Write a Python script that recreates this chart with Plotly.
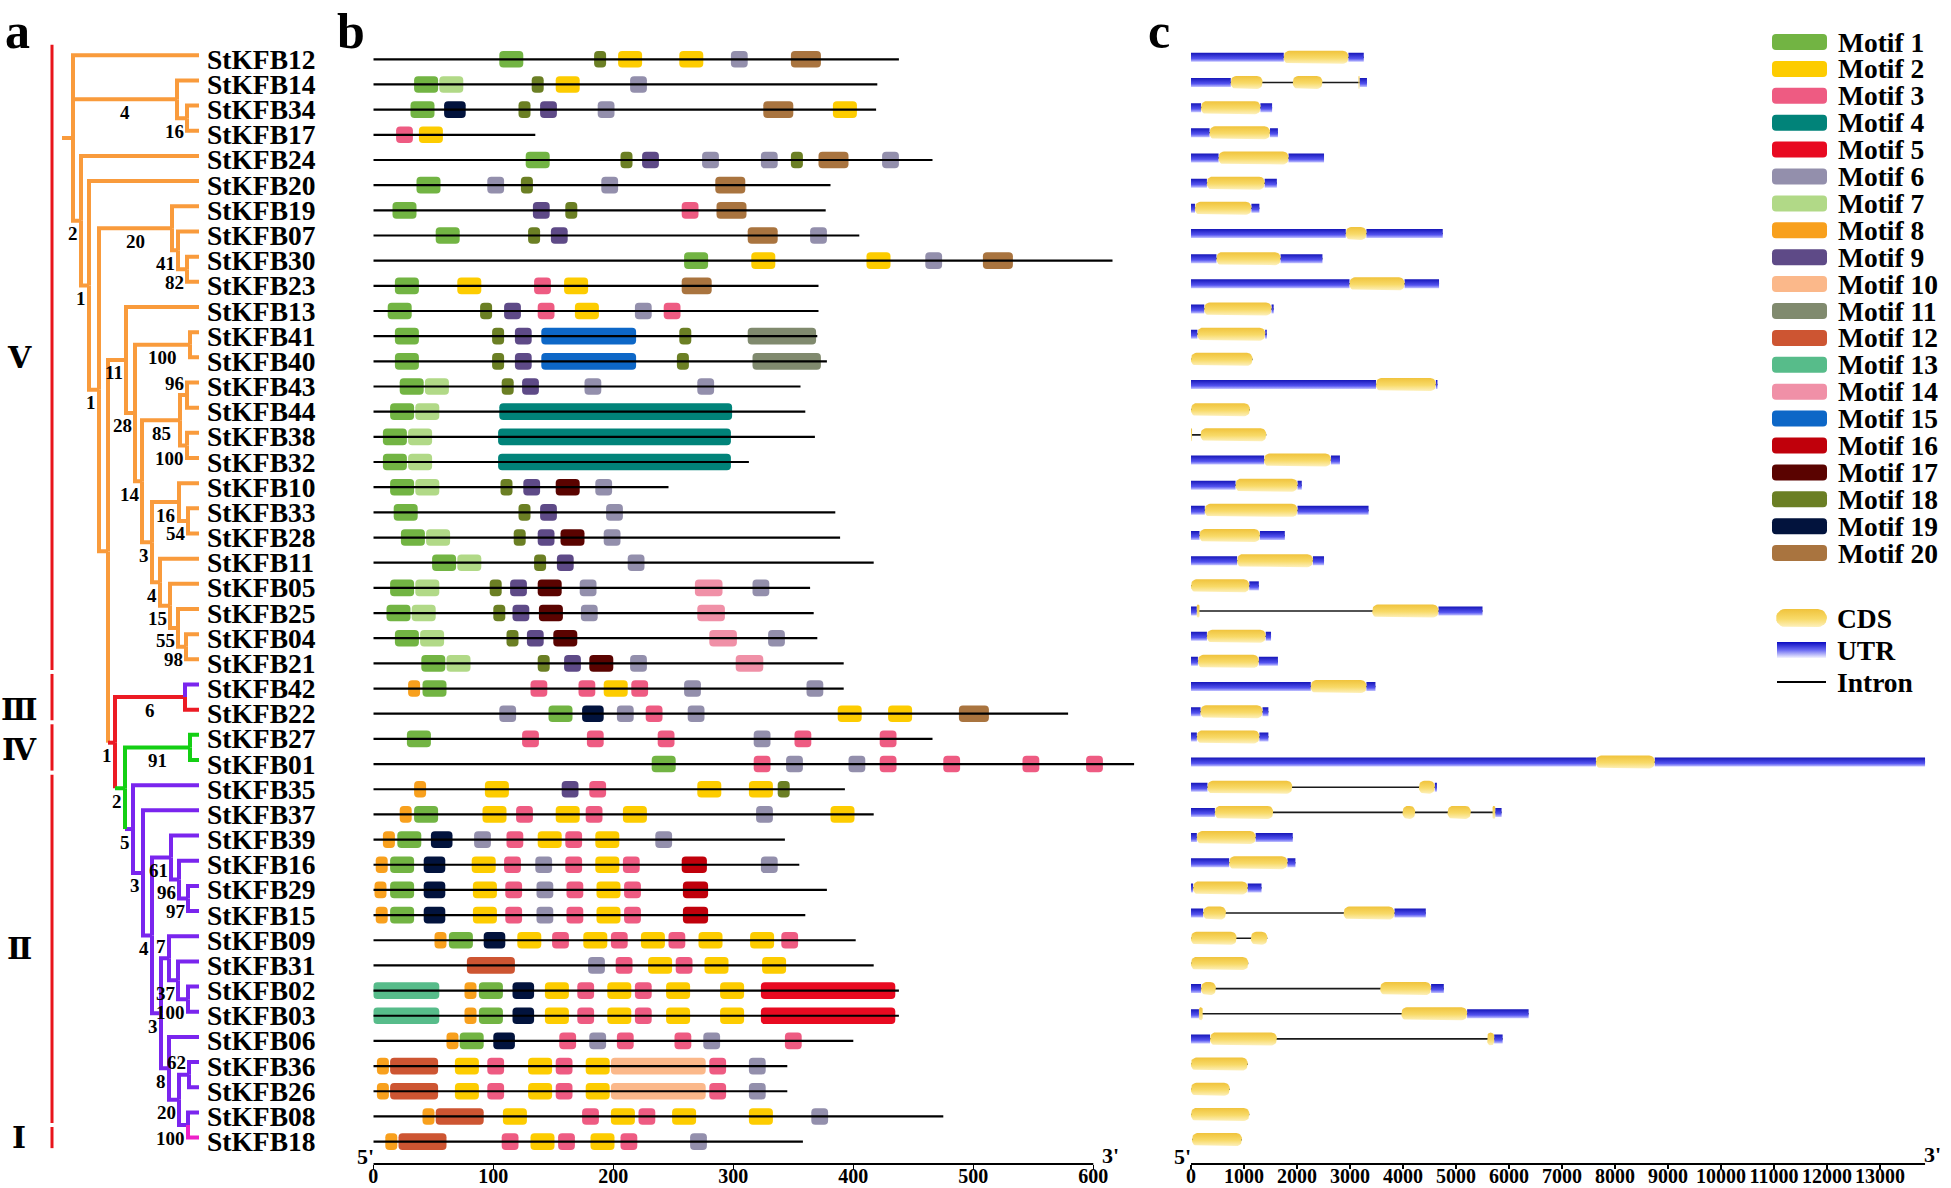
import math
import plotly.graph_objects as go

# ------------------------------------------------------------------ data
GENES = ["StKFB12", "StKFB14", "StKFB34", "StKFB17", "StKFB24", "StKFB20", "StKFB19", "StKFB07",
         "StKFB30", "StKFB23", "StKFB13", "StKFB41", "StKFB40", "StKFB43", "StKFB44", "StKFB38",
         "StKFB32", "StKFB10", "StKFB33", "StKFB28", "StKFB11", "StKFB05", "StKFB25", "StKFB04",
         "StKFB21", "StKFB42", "StKFB22", "StKFB27", "StKFB01", "StKFB35", "StKFB37", "StKFB39",
         "StKFB16", "StKFB29", "StKFB15", "StKFB09", "StKFB31", "StKFB02", "StKFB03", "StKFB06",
         "StKFB36", "StKFB26", "StKFB08", "StKFB18"]

# Newick tree: internal labels = bootstrap, branch lengths = cladogram depth units
TREE_NEWICK = (
    "(StKFB12:126,(StKFB14:22,(StKFB34:12,StKFB17:12)16:10)4:104,(StKFB24:118,(StKFB20:110,"
    "((StKFB19:27,(StKFB07:21,(StKFB30:12,StKFB23:12)82:9)41:6)20:73,"
    "((StKFB13:73,((StKFB41:9,StKFB40:9)100:55,(((StKFB43:12,StKFB44:12)96:7,"
    "(StKFB38:12,StKFB32:12)100:7)85:38,((StKFB10:20,(StKFB33:11,StKFB28:11)54:9)16:27,"
    "(StKFB11:39,(StKFB05:29,(StKFB25:21,(StKFB04:13,StKFB21:13)98:8)55:8)15:10)4:8)3:10)14:7)28:9)11:18,"
    "((StKFB42:14,StKFB22:14)6:70,((StKFB27:9,StKFB01:9)91:65,(StKFB35:66,(StKFB37:56,"
    "((StKFB39:28,(StKFB16:20,(StKFB29:11,StKFB15:11)97:9)96:8)61:19,"
    "((StKFB09:30,(StKFB31:21,(StKFB02:11,StKFB03:11)100:10)37:9)7:8,"
    "(StKFB06:30,((StKFB36:10,StKFB26:10)62:10,(StKFB08:11,StKFB18:11)100:9)20:10)8:8)3:9)4:9)3:10)5:8)2:10)1:7)"
    ":9)1:10)1:8)2:8):11;"
)
# bootstrap labels drawn above (instead of below) their branch, identified by two leaves
BOOT_ABOVE = [("StKFB43", "StKFB44"), ("StKFB36", "StKFB26"), ("StKFB09", "StKFB03")]

CLADE_NAMES = ["Ⅴ", "Ⅲ", "Ⅳ", "Ⅱ", "Ⅰ"]
CLADE_FIRST = ["StKFB12", "StKFB42", "StKFB27", "StKFB35", "StKFB18"]
CLADE_LAST = ["StKFB21", "StKFB22", "StKFB01", "StKFB08", "StKFB18"]

PROTEIN_LENGTH = [438, 420, 419, 135, 466, 381, 377, 405, 616, 371,
                  371, 370, 378, 356, 360, 368, 313, 246, 385, 389,
                  417, 364, 367, 370, 392, 392, 579, 466, 634, 393,
                  417, 343, 355, 378, 360, 402, 417, 438, 438, 400,
                  345, 345, 475, 358]

MOTIF_NAMES = ["Motif %d" % i for i in range(1, 21)]
MOTIF_WIDTH = [20, 20, 14, 194, 112, 14, 20, 10, 14, 79, 57, 40, 55, 23, 79, 21, 20, 10, 18, 25]

# motif:start (aa), one string per gene in GENES order
MOTIF_SITES = [
    "1:105 18:184 2:204 2:255 6:298 20:348",
    "1:34 7:55 18:132 2:152 6:214",
    "1:31 19:59 18:121 9:139 6:187 20:325 2:383",
    "3:19 2:38",
    "1:127 18:206 9:224 6:274 6:323 18:348 20:371 6:424",
    "1:36 6:95 18:123 6:190 20:285",
    "1:16 9:133 18:160 3:257 20:286",
    "1:52 18:129 9:148 20:312 6:364",
    "1:259 2:315 2:411 6:460 20:508",
    "1:18 2:70 3:134 2:159 20:257",
    "1:12 18:89 9:109 3:137 2:168 6:218 3:242",
    "1:18 18:99 9:118 15:140 18:255 11:312",
    "1:18 18:99 9:118 15:140 18:253 11:316",
    "1:22 7:43 18:107 9:124 6:176 6:270",
    "1:14 7:35 4:105",
    "1:8 7:29 4:104",
    "1:8 7:29 4:104",
    "1:14 7:35 18:106 9:125 17:152 6:185",
    "1:17 18:121 9:139 6:194",
    "1:23 7:44 18:117 9:137 17:156 6:192",
    "1:49 7:70 18:134 9:153 6:212",
    "1:14 7:35 18:97 9:114 17:137 6:172 14:268 6:316",
    "1:11 7:32 18:100 9:116 17:138 6:173 14:270",
    "1:18 7:39 18:111 9:128 17:150 14:280 6:329",
    "1:40 7:61 18:137 9:159 17:180 6:214 14:302",
    "8:29 1:41 3:131 3:171 2:192 3:215 6:259 6:361",
    "6:105 1:146 19:174 6:203 3:227 6:262 2:387 2:429 20:488",
    "1:28 3:124 3:178 3:237 6:317 3:351 3:422",
    "1:232 3:317 6:344 6:396 3:422 3:475 3:541 3:594",
    "8:34 2:93 9:157 3:180 2:270 2:313 18:337",
    "8:22 1:34 2:91 3:119 2:152 3:177 2:208 6:319 2:381",
    "8:8 1:20 19:48 6:84 3:111 2:137 3:160 2:185 6:235",
    "8:2 1:14 19:42 2:82 3:109 6:135 3:160 2:185 3:208 16:257 6:323",
    "8:1 1:14 19:42 2:83 3:110 6:136 3:161 2:186 3:209 16:258",
    "8:2 1:14 19:42 2:83 3:110 6:136 3:161 2:186 3:209 16:258",
    "8:51 1:63 19:92 2:120 3:149 2:175 3:198 2:223 3:246 2:271 2:314 3:340",
    "12:78 6:179 3:202 2:229 3:252 2:276 2:324",
    "13:0 8:76 1:88 19:116 2:143 3:170 2:195 3:218 2:244 2:289 5:323",
    "13:0 8:76 1:88 19:116 2:143 3:170 2:195 3:218 2:244 2:289 5:323",
    "8:61 1:72 19:100 3:155 6:180 3:203 3:251 6:275 3:343",
    "8:3 12:14 2:68 3:95 2:129 3:152 2:177 10:198 3:280 6:313",
    "8:3 12:14 2:68 3:95 2:129 3:152 2:177 10:198 3:280 6:313",
    "8:41 12:52 2:108 3:174 2:198 3:221 2:249 2:313 6:365",
    "8:10 12:21 3:107 2:131 3:154 2:181 3:206 6:264",
]

# gene structure (bp): U = UTR, C = CDS; gaps between blocks are introns
GENE_STRUCTURE = [
    "U0-1750 C1750-2970 U2970-3260",
    "U0-750 C750-1350 C1920-2480 C3160-3180 U3180-3320",
    "U0-190 C190-1310 U1310-1530",
    "U0-350 C350-1490 U1490-1640",
    "U0-520 C520-1840 U1840-2510",
    "U0-300 C300-1390 U1390-1620",
    "U0-75 C75-1140 U1140-1290",
    "U0-2920 C2920-3310 U3310-4750",
    "U0-480 C480-1690 U1690-2480",
    "U0-2990 C2990-4030 U4030-4680",
    "U0-250 C250-1520 U1520-1560",
    "U0-120 C120-1400 U1400-1430",
    "C0-1160",
    "U0-3490 C3490-4620 U4620-4650",
    "C0-1110",
    "C0-20 C180-1420",
    "U0-1380 C1380-2640 U2640-2810",
    "U0-840 C840-2010 U2010-2090",
    "U0-260 C260-2010 U2010-3350",
    "U0-160 C160-1300 U1300-1770",
    "U0-870 C870-2300 U2300-2510",
    "C0-1100 U1100-1280",
    "U0-110 C110-160 C3420-4670 U4670-5500",
    "U0-300 C300-1410 U1410-1510",
    "U0-130 C130-1280 U1280-1640",
    "U0-2260 C2260-3310 U3310-3480",
    "U0-180 C180-1350 U1350-1460",
    "U0-110 C110-1290 U1290-1460",
    "U0-7640 C7640-8750 U8750-13850",
    "U0-310 C310-1910 C4300-4600 U4600-4640",
    "U0-450 C450-1550 C3990-4230 C4840-5280 C5690-5740 U5740-5860",
    "U0-110 C110-1220 U1220-1920",
    "U0-720 C720-1820 U1820-1970",
    "U0-40 C40-1070 U1070-1330",
    "U0-230 C230-660 C2880-3840 U3840-4430",
    "C0-860 C1130-1440",
    "C0-1080",
    "U0-190 C190-470 C3570-4530 U4530-4770",
    "U0-150 C150-220 C3970-5210 U5210-6370",
    "U0-360 C360-1620 C5590-5720 U5720-5880",
    "C0-1070",
    "C0-730",
    "C0-1100",
    "C20-960",
]

PROTEIN_TICKS = [0, 100, 200, 300, 400, 500, 600]
GENE_TICKS = list(range(0, 14000, 1000))
STRUCTURE_LEGEND = ["CDS", "UTR", "Intron"]

# ------------------------------------------------------------------ styles / page geometry
W, H = 1951, 1188          # browser window
OFF = 0                    # page margin (body margin removed by post_script)
FW, FH = W - 2 * OFF, H - 2 * OFF
SERIF = "Liberation Serif, Times New Roman, DejaVu Serif, serif"
ORANGE, RED, GREEN, PURPLE, MAGENTA = "#F99B3C", "#EC1B24", "#14CF14", "#7A25EE", "#EE1FC8"
CLADE_BAR = "#E8141B"
BRANCH_COLOR_RULES = [("StKFB42", "StKFB18", RED), ("StKFB27", "StKFB18", GREEN),
                      ("StKFB35", "StKFB18", PURPLE), ("StKFB42", "StKFB42", PURPLE),
                      ("StKFB18", "StKFB18", MAGENTA)]
MOTIF_COLORS = ["#72B443", "#FDCC00", "#EE5B82", "#018379", "#E80A21", "#938FAC", "#B1D987",
                "#F8A01D", "#5E4A87", "#FBB88A", "#808A6E", "#CD5532", "#57BC8A", "#F090A7",
                "#0D67C7", "#C0000B", "#5A0300", "#6B7F24", "#02133D", "#A9743F"]
CDS_SCALE = [[0, "#FDF0BC"], [0.45, "#F8DA68"], [1, "#F0C33C"]]
UTR_SCALE = [[0, "#C4C4FF"], [0.35, "#5454F0"], [1, "#1616B8"]]

ROW0_PX, ROW_PX = 59.3, 25.17
Y_TOP = (OFF - ROW0_PX) / ROW_PX
Y_BOT = (OFF + FH - ROW0_PX) / ROW_PX
TREE_PX0 = 62.0
PB_PX0, PB_K, PB_MAX = 373.3, 1.2, 645
PC_PX0, PC_K, PC_MAX = 1191.0, 0.053, 14150
TREE_DY, PC_DY = -0.16, -0.08


def pfx(px):
    return (px - OFF) / FW


def pfy(py):
    return 1 - (py - OFF) / FH


AXIS_POS = pfy(1164)


# ------------------------------------------------------------------ tree
def parse_newick(s):
    pos = [0]

    def node():
        n = {"children": [], "name": "", "bl": 0.0}
        if s[pos[0]] == "(":
            pos[0] += 1
            while True:
                n["children"].append(node())
                ch = s[pos[0]]
                pos[0] += 1
                if ch == ")":
                    break
        st = pos[0]
        while pos[0] < len(s) and s[pos[0]] not in ",():;":
            pos[0] += 1
        n["name"] = s[st:pos[0]]
        if pos[0] < len(s) and s[pos[0]] == ":":
            pos[0] += 1
            st = pos[0]
            while pos[0] < len(s) and s[pos[0]] not in ",();":
                pos[0] += 1
            n["bl"] = float(s[st:pos[0]])
        return n
    return node()


root = parse_newick(TREE_NEWICK)
row_of = {g: i for i, g in enumerate(GENES)}


def place(n, x0):
    n["x"] = x0 + n["bl"]
    n["px"] = x0
    if not n["children"]:
        n["y"] = row_of[n["name"]] + TREE_DY
        n["leaves"] = {n["name"]}
    else:
        for c in n["children"]:
            place(c, n["x"])
        n["y"] = (n["children"][0]["y"] + n["children"][-1]["y"]) / 2
        n["leaves"] = set().union(*[c["leaves"] for c in n["children"]])


place(root, 0.0)


def paint(n, col):
    n["color"] = col
    for c in n["children"]:
        paint(c, col)


def mrca(n, a, b):
    for c in n["children"]:
        if a in c["leaves"] and b in c["leaves"]:
            return mrca(c, a, b)
    return n


paint(root, ORANGE)
for a, b, col in BRANCH_COLOR_RULES:
    paint(mrca(root, a, b), col)
above_ids = {id(mrca(root, a, b)) for a, b in BOOT_ABOVE}

segs = {}


def add_seg(col, pts):
    xs, ys = segs.setdefault(col, ([], []))
    for p in pts:
        xs.append(p[0])
        ys.append(p[1])
    xs.append(None)
    ys.append(None)


boot = []


def walk(n):
    for c in n["children"]:
        leaf = not c["children"]
        vcol = c["color"] if leaf else n["color"]
        if vcol == c["color"]:
            add_seg(vcol, [(n["x"], n["y"]), (n["x"], c["y"]), (c["x"], c["y"])])
        else:
            add_seg(vcol, [(n["x"], n["y"]), (n["x"], c["y"])])
            add_seg(c["color"], [(n["x"], c["y"]), (c["x"], c["y"])])
        if not leaf:
            if c["name"]:
                boot.append(c)
            walk(c)


add_seg(root["color"], [(0, root["y"]), (root["x"], root["y"])])
walk(root)

fig = go.Figure()
for col, (xs, ys) in segs.items():
    fig.add_trace(go.Scatter(x=xs, y=ys, mode="lines", line=dict(color=col, width=4),
                             xaxis="x", yaxis="y", hoverinfo="skip", showlegend=False))

# clade bars
cx, cy = [], []
for f, l in zip(CLADE_FIRST, CLADE_LAST):
    cx += [-10, -10, None]
    cy += [row_of[f] - 0.42 + TREE_DY, row_of[l] + 0.42 + TREE_DY, None]
fig.add_trace(go.Scatter(x=cx, y=cy, mode="lines", line=dict(color=CLADE_BAR, width=3),
                         xaxis="x", yaxis="y", hoverinfo="skip", showlegend=False))

annotations = []


def bold(s):
    return dict(family=SERIF, size=s, color="black", weight="bold")


leaf_x = max(n_["x"] for n_ in [root] + root["children"] if not n_["children"])
for i, g in enumerate(GENES):
    annotations.append(dict(x=leaf_x + 6, y=i, xref="x", yref="y", text=g, showarrow=False,
                            xanchor="left", yanchor="middle", font=bold(27.5)))
for n in boot:
    w = 9.5 * len(n["name"])
    bx = min((n["px"] + n["x"]) / 2, n["x"] - 3 - w / 2)
    dy = -12 if id(n) in above_ids else 13
    annotations.append(dict(x=bx, y=n["y"] + dy / ROW_PX, xref="x", yref="y", text=n["name"],
                            showarrow=False, xanchor="center", yanchor="middle", font=bold(19)))
for name, f, l in zip(CLADE_NAMES, CLADE_FIRST, CLADE_LAST):
    nrows = row_of[l] - row_of[f] + 1
    cyc = (row_of[f] + row_of[l]) / 2 + TREE_DY + (0.5 if nrows == 2 else 0.0) * (1 if f == "StKFB42" else 0.2)
    annotations.append(dict(x=-43, y=cyc, xref="x", yref="y",
                            text=name, showarrow=False, xanchor="center", yanchor="middle",
                            font=bold(30)))

# ------------------------------------------------------------------ panel b (motifs)
bbx, bby = [], []
for i, L in enumerate(PROTEIN_LENGTH):
    bbx += [0, L, None]
    bby += [i, i, None]
fig.add_trace(go.Scatter(x=bbx, y=bby, mode="lines", line=dict(color="black", width=2.2),
                         xaxis="x2", yaxis="y", hoverinfo="skip", showlegend=False))
rows_by_motif = {k: ([], []) for k in range(20)}
for i, s in enumerate(MOTIF_SITES):
    for tok in s.split():
        m, p = tok.split(":")
        rows_by_motif[int(m) - 1][0].append(i)
        rows_by_motif[int(m) - 1][1].append(float(p))
for k in range(20):
    r, st = rows_by_motif[k]
    if not r:
        continue
    fig.add_trace(go.Bar(orientation="h", y=r, base=st, x=[MOTIF_WIDTH[k]] * len(r), width=0.66,
                         marker=dict(color=MOTIF_COLORS[k], cornerradius=4, line=dict(width=0)),
                         xaxis="x2", yaxis="y", hoverinfo="skip", showlegend=False))


# ------------------------------------------------------------------ panel c (gene structure)
def rrect(x0, x1, yc, h_px, r_px, kx, ky, n=6):
    w_px = (x1 - x0) * kx
    r = max(0.0, min(r_px, w_px / 2, h_px / 2))
    rx, ry = r / kx, r / ky
    hy = h_px / 2 / ky
    top, bot = yc - hy, yc + hy
    corners = [(x1 - rx, top + ry, -90, 0), (x1 - rx, bot - ry, 0, 90),
               (x0 + rx, bot - ry, 90, 180), (x0 + rx, top + ry, 180, 270)]
    pts = []
    for ccx, ccy, a0, a1 in corners:
        for k in range(n + 1):
            t = math.radians(a0 + (a1 - a0) * k / n)
            pts.append((ccx + rx * math.cos(t), ccy + ry * math.sin(t)))
    pts.append(pts[0])
    return pts


ix, iy = [], []
gene_max = 0
parsed = []
for i, s in enumerate(GENE_STRUCTURE):
    blocks = []
    for tok in s.split():
        kind = tok[0]
        a, b = tok[1:].split("-")
        blocks.append((kind, float(a), float(b)))
    parsed.append(blocks)
    lo = min(b[1] for b in blocks)
    hi = max(b[2] for b in blocks)
    gene_max = max(gene_max, hi)
    ix += [lo, hi, None]
    iy += [i + PC_DY, i + PC_DY, None]
fig.add_trace(go.Scatter(x=ix, y=iy, mode="lines", line=dict(color="#1a1a1a", width=1.6),
                         xaxis="x3", yaxis="y", hoverinfo="skip", showlegend=False))

for kind, hpx, rpx, scale, fc in [("U", 9, 0, UTR_SCALE, "#2a2ad0"), ("C", 13, 5.5, CDS_SCALE, "#F5D35A")]:
    for i, blocks in enumerate(parsed):
        xs, ys = [], []
        for kd, a, b in blocks:
            if kd != kind:
                continue
            for px_, py_ in rrect(a, b, i + PC_DY, hpx, rpx, PC_K, ROW_PX):
                xs.append(px_)
                ys.append(py_)
            xs.append(None)
            ys.append(None)
        if not xs:
            continue
        fig.add_trace(go.Scatter(x=xs, y=ys, mode="lines", fill="toself", line=dict(width=0),
                                 fillcolor=fc, fillgradient=dict(type="vertical", colorscale=scale),
                                 xaxis="x3", yaxis="y", hoverinfo="skip", showlegend=False))

# ------------------------------------------------------------------ legend (x4 / y4 in window pixels)
leg_y = [42 + 26.9 * k for k in range(20)]
fig.add_trace(go.Bar(orientation="h", y=leg_y, base=[1772] * 20, x=[55] * 20, width=16,
                     marker=dict(color=MOTIF_COLORS, cornerradius=4, line=dict(width=0)),
                     xaxis="x4", yaxis="y4", hoverinfo="skip", showlegend=False))
for name, yy in zip(MOTIF_NAMES, leg_y):
    annotations.append(dict(x=pfx(1836), y=pfy(yy), xref="paper", yref="paper", text=name,
                            showarrow=False, xanchor="left", yanchor="middle", font=bold(27.5)))
cds_pts = rrect(1776, 1827, 618, 18, 9, 1, 1)
fig.add_trace(go.Scatter(x=[p[0] for p in cds_pts], y=[p[1] for p in cds_pts], mode="lines",
                         fill="toself", line=dict(width=0), fillcolor="#F5D35A",
                         fillgradient=dict(type="vertical", colorscale=CDS_SCALE),
                         xaxis="x4", yaxis="y4", hoverinfo="skip", showlegend=False))
utr_pts = rrect(1777, 1826, 650, 16, 0, 1, 1)
fig.add_trace(go.Scatter(x=[p[0] for p in utr_pts], y=[p[1] for p in utr_pts], mode="lines",
                         fill="toself", line=dict(width=0), fillcolor="#2a2ad0",
                         fillgradient=dict(type="vertical", colorscale=[[0, "#F4F4FF"], [0.5, "#6A6AF2"], [1, "#0A0AC0"]]),
                         xaxis="x4", yaxis="y4", hoverinfo="skip", showlegend=False))
fig.add_trace(go.Scatter(x=[1777, 1826], y=[682, 682], mode="lines", line=dict(color="black", width=2),
                         xaxis="x4", yaxis="y4", hoverinfo="skip", showlegend=False))
for name, yy in zip(STRUCTURE_LEGEND, [618, 650, 682]):
    annotations.append(dict(x=pfx(1835), y=pfy(yy), xref="paper", yref="paper", text=name,
                            showarrow=False, xanchor="left", yanchor="middle", font=bold(27.5)))

# panel letters and 5'/3' marks
for t, xx in [("a", 17), ("b", 351), ("c", 1159)]:
    annotations.append(dict(x=pfx(xx), y=pfy(0.5), xref="paper", yref="paper", text=t,
                            showarrow=False, xanchor="center", yanchor="top", font=bold(50)))
for t, xx, yy in [("5'", 365, 1156), ("3'", 1110, 1155), ("5'", 1182, 1156), ("3'", 1932, 1154)]:
    annotations.append(dict(x=pfx(xx), y=pfy(yy), xref="paper", yref="paper", text=t,
                            showarrow=False, xanchor="center", yanchor="middle", font=bold(22)))

shapes = [
    dict(type="line", xref="x2", yref="paper", x0=0, x1=PROTEIN_TICKS[-1], y0=AXIS_POS, y1=AXIS_POS,
         line=dict(color="black", width=2)),
    dict(type="line", xref="x3", yref="paper", x0=0, x1=gene_max, y0=AXIS_POS, y1=AXIS_POS,
         line=dict(color="black", width=2)),
]

axis_common = dict(anchor="free", position=AXIS_POS, showline=False, showgrid=False, zeroline=False,
                   ticks="outside", ticklen=4, tickwidth=1.5, tickcolor="black",
                   ticklabelstandoff=-10, tickfont=bold(20), tickformat="d", fixedrange=True)

fig.update_layout(
    width=FW, height=FH, margin=dict(l=0, r=0, t=0, b=0), template="none",
    paper_bgcolor="white", plot_bgcolor="rgba(0,0,0,0)", showlegend=False, barmode="overlay",
    xaxis=dict(domain=[0, pfx(360)], range=[OFF - TREE_PX0, 360 - TREE_PX0], visible=False,
               fixedrange=True),
    yaxis=dict(domain=[0, 1], range=[Y_BOT, Y_TOP], visible=False, fixedrange=True),
    xaxis2=dict(domain=[pfx(PB_PX0), pfx(PB_PX0 + PB_MAX * PB_K)], range=[0, PB_MAX],
                tickvals=PROTEIN_TICKS, **axis_common),
    xaxis3=dict(domain=[pfx(PC_PX0), pfx(PC_PX0 + PC_MAX * PC_K)], range=[0, PC_MAX],
                tickvals=GENE_TICKS, **axis_common),
    xaxis4=dict(domain=[0, 1], range=[OFF, OFF + FW], visible=False, anchor="y4", fixedrange=True),
    yaxis4=dict(domain=[0, 1], range=[OFF + FH, OFF], visible=False, anchor="x4", fixedrange=True),
    annotations=annotations, shapes=shapes,
)

fig.write_html("out.html", config={"displayModeBar": False, "staticPlot": True},
               post_script="document.body.style.margin='0px';document.body.style.overflow='hidden';")
